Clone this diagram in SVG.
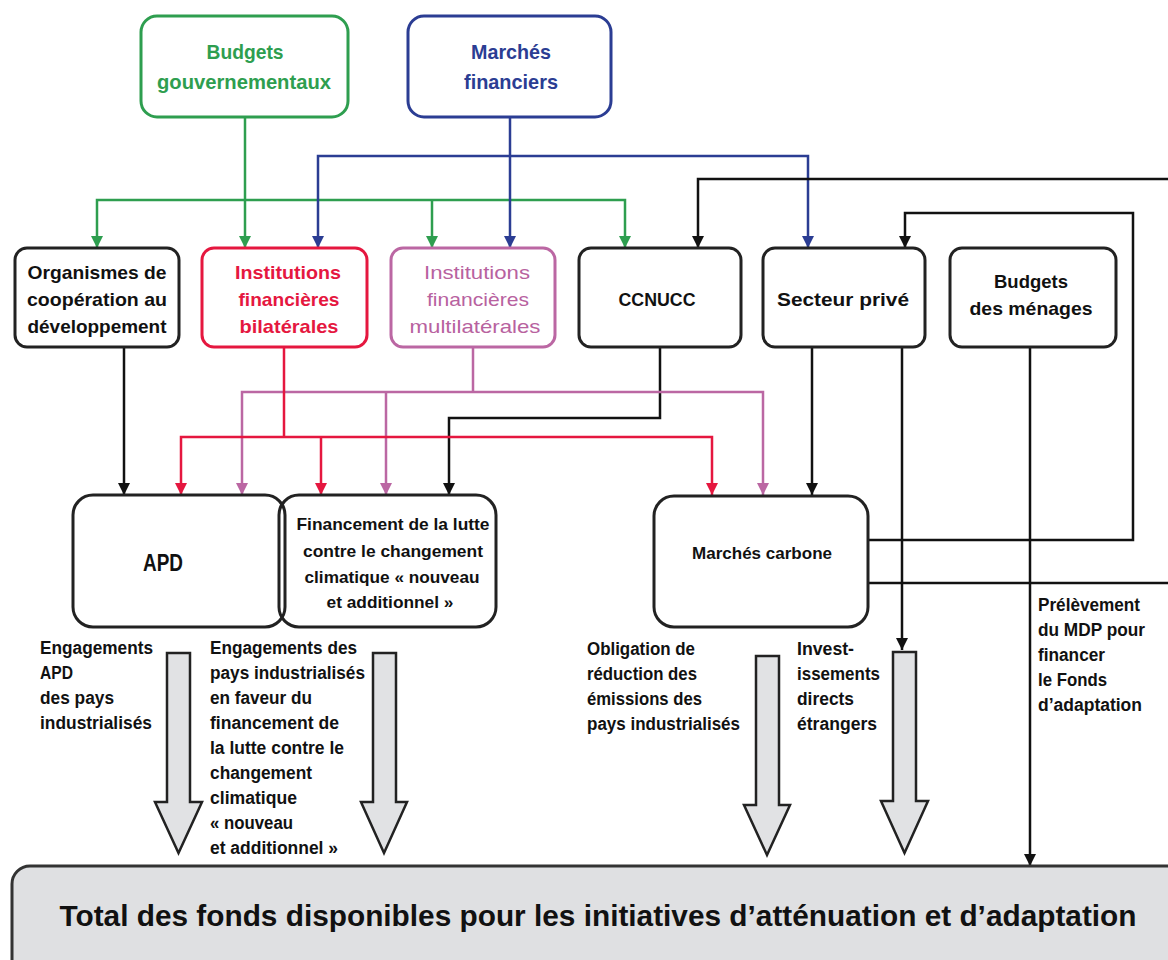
<svg xmlns="http://www.w3.org/2000/svg" width="1168" height="960" viewBox="0 0 1168 960">
<style>
text{font-family:"Liberation Sans",Arial,sans-serif;font-weight:bold;fill:#111;}
.box{fill:#fff;stroke:#222;stroke-width:3;}
.t{text-anchor:middle;}
.lbl{font-size:18px;}
.c{fill:none;stroke-width:2.5;}
.k{stroke:#111;}
.g{stroke:#2e9e4f;}
.b{stroke:#2b3d93;}
.r{stroke:#e5173f;}
.m{stroke:#bb67a3;}
.big{fill:#e1e2e4;stroke:#222;stroke-width:2.5;stroke-linejoin:miter;}
</style>
<defs>
<marker id="ak" markerWidth="14" markerHeight="14" refX="12" refY="7" orient="auto-start-reverse" markerUnits="userSpaceOnUse"><path d="M0,1 L12,7 L0,13 z" fill="#111"/></marker>
<marker id="ag" markerWidth="14" markerHeight="14" refX="12" refY="7" orient="auto-start-reverse" markerUnits="userSpaceOnUse"><path d="M0,1 L12,7 L0,13 z" fill="#2e9e4f"/></marker>
<marker id="ab" markerWidth="14" markerHeight="14" refX="12" refY="7" orient="auto-start-reverse" markerUnits="userSpaceOnUse"><path d="M0,1 L12,7 L0,13 z" fill="#2b3d93"/></marker>
<marker id="ar" markerWidth="14" markerHeight="14" refX="12" refY="7" orient="auto-start-reverse" markerUnits="userSpaceOnUse"><path d="M0,1 L12,7 L0,13 z" fill="#e5173f"/></marker>
<marker id="am" markerWidth="14" markerHeight="14" refX="12" refY="7" orient="auto-start-reverse" markerUnits="userSpaceOnUse"><path d="M0,1 L12,7 L0,13 z" fill="#bb67a3"/></marker>
</defs>
<rect width="1168" height="960" fill="#fff"/>

<g id="connectors">
<path class="c g" d="M245,117 V248" marker-end="url(#ag)"/>
<path class="c g" d="M97,248 V200 H625 V248" marker-start="url(#ag)" marker-end="url(#ag)"/>
<path class="c g" d="M432,200 V248" marker-end="url(#ag)"/>
<path class="c b" d="M510,117 V248" marker-end="url(#ab)"/>
<path class="c b" d="M318,248 V156 H808 V248" marker-start="url(#ab)" marker-end="url(#ab)"/>
<path class="c k" d="M1170,179 H698 V248" marker-end="url(#ak)"/>
<path class="c k" d="M868,540 H1133 V213 H905 V248" marker-end="url(#ak)"/>
<path class="c k" d="M868,583 H1170"/>
<path class="c k" d="M124,347 V495" marker-end="url(#ak)"/>
<path class="c k" d="M660,347 V418 H449 V495" marker-end="url(#ak)"/>
<path class="c k" d="M812,347 V495" marker-end="url(#ak)"/>
<path class="c k" d="M902,347 V650" marker-end="url(#ak)"/>
<path class="c k" d="M1030,347 V866" marker-end="url(#ak)"/>
<path class="c m" d="M473,347 V392"/>
<path class="c m" d="M242,495 V392 H763 V495" marker-start="url(#am)" marker-end="url(#am)"/>
<path class="c m" d="M386,392 V495" marker-end="url(#am)"/>
<path class="c r" d="M284,347 V437"/>
<path class="c r" d="M181,495 V437 H712 V495" marker-start="url(#ar)" marker-end="url(#ar)"/>
<path class="c r" d="M321,437 V495" marker-end="url(#ar)"/>
<polygon class="big" points="167,653 190,653 190,802 202,802 178.5,853 155,802 167,802"/>
<polygon class="big" points="373,653 396,653 396,802 407,802 384,853 361,802 373,802"/>
<polygon class="big" points="756,656 779,656 779,805 790,805 767,855 744,805 756,805"/>
<polygon class="big" points="893,652 916,652 916,801 928,801 904.5,853 881,801 893,801"/>
</g>

<g id="budgets-gouv">
<rect x="141" y="16" width="207" height="101" rx="16" fill="#fff" stroke="#2e9e4f" stroke-width="3"/>
<text class="t" x="245" y="59" font-size="21" style="fill:#2e9e4f" textLength="77" lengthAdjust="spacingAndGlyphs">Budgets</text>
<text class="t" x="244" y="89" font-size="21" style="fill:#2e9e4f" textLength="174" lengthAdjust="spacingAndGlyphs">gouvernementaux</text>
</g>
<g id="marches-fin">
<rect x="408" y="16" width="203" height="101" rx="16" fill="#fff" stroke="#2b3d93" stroke-width="3"/>
<text class="t" x="511" y="59" font-size="21" style="fill:#2b3d93" textLength="80" lengthAdjust="spacingAndGlyphs">Marchés</text>
<text class="t" x="511" y="89" font-size="21" style="fill:#2b3d93" textLength="94" lengthAdjust="spacingAndGlyphs">financiers</text>
</g>

<g id="organismes">
<rect class="box" x="15" y="248" width="164" height="99" rx="12"/>
<text class="t" x="97" y="279" font-size="19" textLength="139" lengthAdjust="spacingAndGlyphs">Organismes de</text>
<text class="t" x="97" y="306" font-size="19" textLength="140" lengthAdjust="spacingAndGlyphs">coopération au</text>
<text class="t" x="97" y="333" font-size="19" textLength="139" lengthAdjust="spacingAndGlyphs">développement</text>
</g>
<g id="bilaterales">
<rect x="202" y="248" width="165" height="99" rx="12" fill="#fff" stroke="#e5173f" stroke-width="3"/>
<text class="t" x="288" y="279" font-size="19" style="fill:#e5173f" textLength="106" lengthAdjust="spacingAndGlyphs">Institutions</text>
<text class="t" x="289" y="306" font-size="19" style="fill:#e5173f" textLength="101" lengthAdjust="spacingAndGlyphs">financières</text>
<text class="t" x="289" y="333" font-size="19" style="fill:#e5173f" textLength="99" lengthAdjust="spacingAndGlyphs">bilatérales</text>
</g>
<g id="multilaterales">
<rect x="391" y="248" width="164" height="99" rx="12" fill="#fff" stroke="#bb67a3" stroke-width="3"/>
<text class="t" x="477" y="279" font-size="19" style="fill:#b8629f;font-weight:normal" textLength="106" lengthAdjust="spacingAndGlyphs">Institutions</text>
<text class="t" x="478" y="306" font-size="19" style="fill:#b8629f;font-weight:normal" textLength="102" lengthAdjust="spacingAndGlyphs">financières</text>
<text class="t" x="475" y="333" font-size="19" style="fill:#b8629f;font-weight:normal" textLength="131" lengthAdjust="spacingAndGlyphs">multilatérales</text>
</g>
<g id="ccnucc">
<rect class="box" x="579" y="248" width="162" height="99" rx="12"/>
<text class="t" x="657" y="306" font-size="19" textLength="77" lengthAdjust="spacingAndGlyphs">CCNUCC</text>
</g>
<g id="secteur-prive">
<rect class="box" x="763" y="248" width="162" height="99" rx="12"/>
<text class="t" x="843" y="306" font-size="19" textLength="132" lengthAdjust="spacingAndGlyphs">Secteur privé</text>
</g>
<g id="budgets-menages">
<rect class="box" x="950" y="248" width="166" height="99" rx="12"/>
<text class="t" x="1031" y="288" font-size="19" textLength="74" lengthAdjust="spacingAndGlyphs">Budgets</text>
<text class="t" x="1031" y="315" font-size="19" textLength="123" lengthAdjust="spacingAndGlyphs">des ménages</text>
</g>

<g id="apd">
<rect class="box" x="73" y="495" width="212" height="132" rx="20"/>
<text class="t" x="163" y="571" font-size="23" textLength="40" lengthAdjust="spacingAndGlyphs">APD</text>
</g>
<g id="financement">
<rect x="279" y="495" width="217" height="132" rx="20" fill="none" stroke="#222" stroke-width="3"/>
<text class="t" x="393" y="530" font-size="17" textLength="193" lengthAdjust="spacingAndGlyphs">Financement de la lutte</text>
<text class="t" x="393" y="557" font-size="17" textLength="180" lengthAdjust="spacingAndGlyphs">contre le changement</text>
<text class="t" x="392" y="583" font-size="17" textLength="175" lengthAdjust="spacingAndGlyphs">climatique « nouveau</text>
<text class="t" x="390" y="608" font-size="17" textLength="127" lengthAdjust="spacingAndGlyphs">et additionnel »</text>
</g>
<g id="marches-carbone">
<rect class="box" x="654" y="496" width="214" height="131" rx="20"/>
<text class="t" x="762" y="559" font-size="17" textLength="140" lengthAdjust="spacingAndGlyphs">Marchés carbone</text>
</g>

<g id="labels" class="lbl">
<text x="40" y="654" textLength="113" lengthAdjust="spacingAndGlyphs">Engagements</text>
<text x="40" y="679" textLength="33" lengthAdjust="spacingAndGlyphs">APD</text>
<text x="40" y="704" textLength="74" lengthAdjust="spacingAndGlyphs">des pays</text>
<text x="40" y="729" textLength="112" lengthAdjust="spacingAndGlyphs">industrialisés</text>

<text x="210" y="654" textLength="147" lengthAdjust="spacingAndGlyphs">Engagements des</text>
<text x="210" y="679" textLength="155" lengthAdjust="spacingAndGlyphs">pays industrialisés</text>
<text x="210" y="704" textLength="102" lengthAdjust="spacingAndGlyphs">en faveur du</text>
<text x="210" y="729" textLength="129" lengthAdjust="spacingAndGlyphs">financement de</text>
<text x="210" y="754" textLength="134" lengthAdjust="spacingAndGlyphs">la lutte contre le</text>
<text x="210" y="779" textLength="102" lengthAdjust="spacingAndGlyphs">changement</text>
<text x="210" y="804" textLength="87" lengthAdjust="spacingAndGlyphs">climatique</text>
<text x="210" y="829" textLength="83" lengthAdjust="spacingAndGlyphs">« nouveau</text>
<text x="210" y="854" textLength="128" lengthAdjust="spacingAndGlyphs">et additionnel »</text>

<text x="587" y="655" textLength="108" lengthAdjust="spacingAndGlyphs">Obligation de</text>
<text x="587" y="680" textLength="110" lengthAdjust="spacingAndGlyphs">réduction des</text>
<text x="587" y="705" textLength="115" lengthAdjust="spacingAndGlyphs">émissions des</text>
<text x="587" y="730" textLength="153" lengthAdjust="spacingAndGlyphs">pays industrialisés</text>

<text x="797" y="655" textLength="57" lengthAdjust="spacingAndGlyphs">Invest-</text>
<text x="797" y="680" textLength="83" lengthAdjust="spacingAndGlyphs">issements</text>
<text x="797" y="705" textLength="57" lengthAdjust="spacingAndGlyphs">directs</text>
<text x="797" y="730" textLength="80" lengthAdjust="spacingAndGlyphs">étrangers</text>

<text x="1038" y="611" textLength="102" lengthAdjust="spacingAndGlyphs">Prélèvement</text>
<text x="1038" y="636" textLength="107" lengthAdjust="spacingAndGlyphs">du MDP pour</text>
<text x="1038" y="661" textLength="67" lengthAdjust="spacingAndGlyphs">financer</text>
<text x="1038" y="686" textLength="69" lengthAdjust="spacingAndGlyphs">le Fonds</text>
<text x="1038" y="711" textLength="104" lengthAdjust="spacingAndGlyphs">d’adaptation</text>
</g>

<g id="total">
<rect x="12" y="866" width="1180" height="120" rx="18" fill="#dfe0e2" stroke="#333" stroke-width="3"/>
<text class="t" x="598" y="926" font-size="29" textLength="1077" lengthAdjust="spacingAndGlyphs">Total des fonds disponibles pour les initiatives d’atténuation et d’adaptation</text>
</g>
</svg>
